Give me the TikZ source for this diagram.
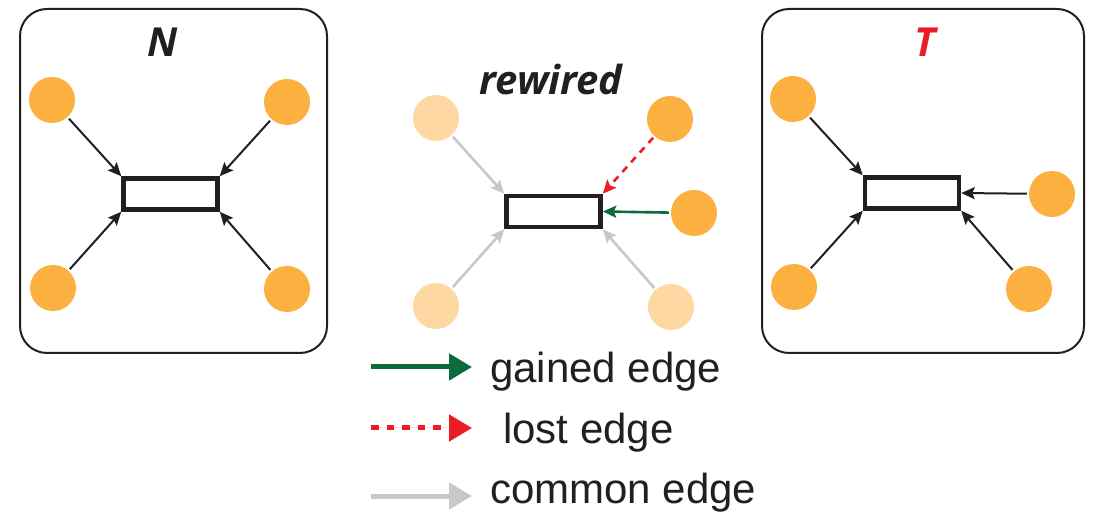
\documentclass[tikz,border=0pt]{standalone}
\usepackage{fontspec}
\setmainfont{Liberation Sans}
\newfontfamily\titlefont{Open Sans}
\usetikzlibrary{arrows.meta}
\definecolor{orng}{HTML}{FBB040}
\definecolor{pale}{HTML}{FDD8A2}
\definecolor{grn}{HTML}{0B6B3A}
\definecolor{rd}{HTML}{ED1C24}
\definecolor{gry}{HTML}{C7C8CA}
\definecolor{blk}{HTML}{231F20}
\tikzset{
  dot/.style={circle,fill=orng,minimum size=46pt,inner sep=0pt},
  palepdot/.style={circle,fill=pale,minimum size=46pt,inner sep=0pt},
  gene/.style={draw=blk,line width=4.5pt,minimum width=94pt,minimum height=31pt,inner sep=0pt},
  frame/.style={draw=blk,line width=2pt,rounded corners=27pt},
  tip/.style={-{Stealth[length=13.5pt,width=12pt,inset=2.5pt]}},
  edge/.style={draw=blk,line width=2pt,shorten <=2pt,tip},
  gedge/.style={draw=gry,line width=2.6pt,shorten <=2pt,tip},
  redge/.style={draw=rd,line width=2.6pt,dash pattern=on 7pt off 6pt,shorten <=2pt,tip},
  nedge/.style={draw=grn,line width=2.6pt,shorten <=2pt,tip},
  ttl/.style={font=\titlefont\bfseries\itshape\fontsize{40}{48}\selectfont,anchor=base,inner sep=0pt},
  legtxt/.style={font=\fontsize{42}{50}\selectfont,text=blk,anchor=base west,inner sep=0pt},
  legline/.style={line width=5pt,-{Triangle[length=23pt,width=26pt]}}
}
\begin{document}
\begin{tikzpicture}[x=1pt,y=-1pt]
\useasboundingbox (0,0) rectangle (1098,518);
% left panel N
\draw[frame] (20,9) rectangle (327,353);
\node[ttl,text=blk] (tN) at (163,57) {N};
\node[gene] (gN) at (170.5,194) {};
\node[dot] (n1) at (52,100) {};
\node[dot] (n2) at (287,102) {};
\node[dot] (n3) at (53,288) {};
\node[dot] (n4) at (287,289) {};
\draw[edge] (n1) -- (gN.north west);
\draw[edge] (n2) -- (gN.north east);
\draw[edge] (n3) -- (gN.south west);
\draw[edge] (n4) -- (gN.south east);
% middle rewired
\node[ttl,text=blk] (tR) at (551,95) {rewired};
\node[gene] (gR) at (553.5,211.5) {};
\node[palepdot] (r1) at (436,118) {};
\node[dot] (r2) at (670,119) {};
\node[dot] (r5) at (694,213) {};
\node[palepdot] (r3) at (436,306) {};
\node[palepdot] (r4) at (671,307) {};
\draw[gedge] (r1) -- (gR.north west);
\draw[redge] (r2) -- (gR.north east);
\draw[nedge] (r5) -- (gR.east);
\draw[gedge] (r3) -- (gR.south west);
\draw[gedge] (r4) -- (gR.south east);
% right panel T
\draw[frame] (762,9) rectangle (1084,353);
\node[ttl,text=rd] (tT) at (925,57) {T};
\node[gene] (gT) at (912,193) {};
\node[dot] (t1) at (793,99) {};
\node[dot] (t5) at (1052,194) {};
\node[dot] (t3) at (794,287) {};
\node[dot] (t4) at (1029,289) {};
\draw[edge] (t1) -- (gT.north west);
\draw[edge] (t5) -- (gT.east);
\draw[edge] (t3) -- (gT.south west);
\draw[edge] (t4) -- (gT.south east);
% legend
\coordinate (a1) at (371,367); \coordinate (a2) at (472,367);
\coordinate (b1) at (371,428); \coordinate (b2) at (472,428);
\coordinate (c1) at (371,496); \coordinate (c2) at (472,496);
\draw[legline,draw=grn,fill=grn] (a1) -- (a2);
\draw[legline,draw=rd,fill=rd,dash pattern=on 7.5pt off 8pt] (b1) -- (b2);
\draw[legline,draw=gry,fill=gry] (c1) -- (c2);
\node[legtxt] (l1) at (490,383) {gained edge};
\node[legtxt] (l2) at (503,443) {lost edge};
\node[legtxt] (l3) at (490,503) {common edge};
\end{tikzpicture}
\end{document}
